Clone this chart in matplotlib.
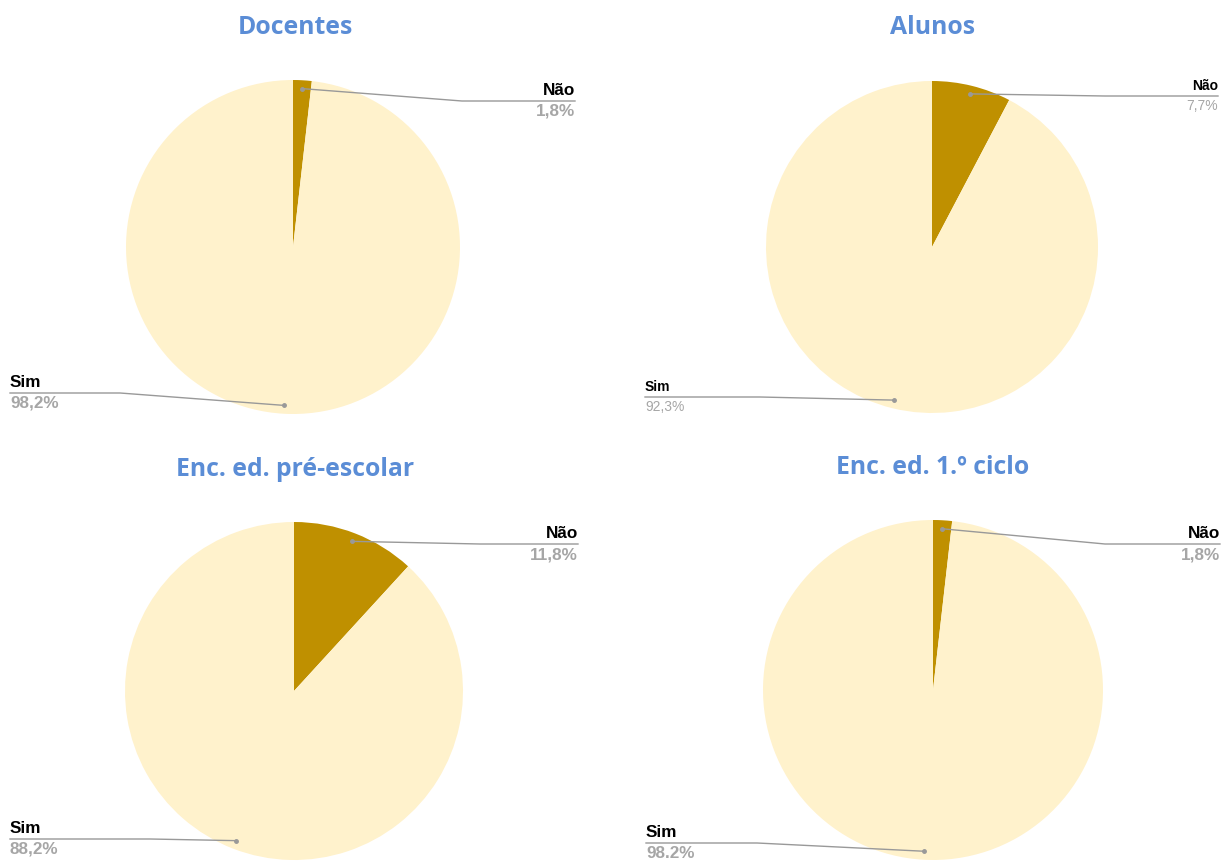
import matplotlib.pyplot as plt
import numpy as np

# data
titles = ['Docentes', 'Alunos', 'Enc. ed. pré-escolar', 'Enc. ed. 1.º ciclo']
categories = ['Não', 'Sim']
nao = [1.8, 7.7, 11.8, 1.8]
sim = [98.2, 92.3, 88.2, 98.2]
nao_text = ['1,8%', '7,7%', '11,8%', '1,8%']
sim_text = ['98,2%', '92,3%', '88,2%', '98.2%']

# layout (pixels, y measured from top)
W, H = 1224, 861
centers = [(293, 247), (932, 247), (294, 691), (933, 690)]
radii = [167, 166, 169, 170]
title_xy = [(295, 27), (933, 27), (295, 470), (933, 468)]
nao_line = [(575, 101, 462), (1218, 96, 1105), (578, 544, 480), (1220, 544, 1105)]  # label x, line y, elbow x
sim_line = [(10, 393, 120), (645, 397, 760), (10, 839, 150), (646, 843, 757)]
lab_size = [12.3, 10, 12.3, 12.3]

colors = ['#bf9000', '#fff2cc']
title_color = '#5b8dd6'
line_color = '#999999'

fig = plt.figure(figsize=(W / 100, H / 100), dpi=100)
ax = fig.add_axes([0, 0, 1, 1])
ax.set_xlim(0, W)
ax.set_ylim(0, H)
ax.set_aspect('equal')
ax.axis('off')

for i in range(4):
    cx, cy = centers[i][0], H - centers[i][1]
    r = radii[i]
    vals = [nao[i], sim[i]]
    ax.pie(vals, colors=colors, startangle=90, counterclock=False,
           center=(cx, cy), radius=r, frame=True,
           wedgeprops=dict(linewidth=0))
    ax.text(title_xy[i][0], H - title_xy[i][1], titles[i], ha='center', va='center',
            fontsize=17.8, fontweight='bold', color=title_color, family='Open Sans')

    # leader lines from slice middles
    total = sum(vals)
    start = 90.0
    for k, v in enumerate(vals):
        span = 360.0 * v / total
        mid = np.radians(start - span / 2)
        start -= span
        px, py = cx + 0.95 * r * np.cos(mid), cy + 0.95 * r * np.sin(mid)
        if k == 0:
            lx, ly, ex = nao_line[i]
            ha = 'right'
            txt = nao_text[i]
        else:
            lx, ly, ex = sim_line[i]
            ha = 'left'
            txt = sim_text[i]
        ly = H - ly
        ax.plot([px, ex, lx], [py, ly, ly], color=line_color, lw=1, zorder=3)
        ax.plot(px, py, 'o', color=line_color, ms=2.5, zorder=4)
        ax.text(lx, ly + 3, categories[k], ha=ha, va='bottom', fontsize=lab_size[i],
                fontweight='bold', color='black', family='Liberation Sans')
        ax.text(lx, ly - 3, txt, ha=ha, va='top', fontsize=lab_size[i],
                fontweight='bold' if i != 1 else 'normal', color='#a6a6a6',
                family='Liberation Sans')

ax.set_xlim(0, W)
ax.set_ylim(0, H)
fig.savefig('out.png', dpi=100)
